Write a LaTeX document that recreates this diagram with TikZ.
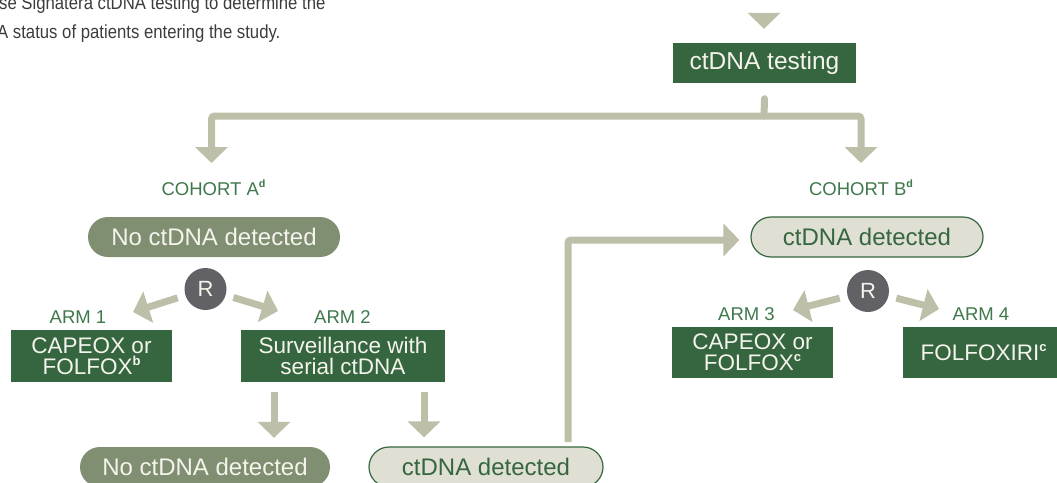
\documentclass[tikz,border=0pt]{standalone}
\usepackage{fontspec}
\setmainfont{Liberation Sans}
\newfontfamily\narrowfont[FakeStretch=0.88]{Liberation Sans}
\usetikzlibrary{arrows.meta}

\definecolor{cbox}{RGB}{53,102,63}
\definecolor{clink}{RGB}{189,191,168}
\definecolor{cpill}{RGB}{128,142,114}
\definecolor{clight}{RGB}{223,224,211}
\definecolor{clabel}{RGB}{62,120,75}
\definecolor{crand}{RGB}{98,97,101}
\definecolor{cnote}{RGB}{60,60,60}
\definecolor{cpaper}{RGB}{244,244,236}
\newcommand\supnote[1]{\raisebox{0.4em}{\scalebox{0.58}{\bfseries #1}}}
\tikzset{trialflow/.style={x=1pt,y=-1pt}}
\tikzset{armbox/.style={fill=cbox,text=cpaper,inner sep=0pt,align=center,font=\fontsize{22.5}{21}\selectfont},
         pill/.style={fill=cpill,text=cpaper,rounded corners=20pt,minimum height=40pt,inner sep=0pt,font=\fontsize{24}{24}\selectfont},
         pilllt/.style={pill,fill=clight,draw=cbox,line width=1.2pt,text=cbox},
         tag/.style={text=clabel,inner sep=0pt,anchor=base,font=\fontsize{18.5}{18.5}\selectfont},
         rand/.style={circle,fill=crand,text=cpaper,minimum size=42pt,inner sep=0pt,font=\fontsize{22}{22}\selectfont},
         note/.style={text=cnote,inner sep=0pt,anchor=base west,font=\narrowfont\fontsize{19}{19}\selectfont},
         flow/.style={clink,line width=7pt,rounded corners=3pt,-{Triangle[width=32pt,length=16pt]}}}

\begin{document}
\begin{tikzpicture}[trialflow]
    \useasboundingbox (0,0) rectangle (1057,482);
    \clip (0,0) rectangle (1057,482);
    \node[note] (note1) at (-1,9.5) {se Signatera ctDNA testing to determine the};
    \node[note] (note2) at (-3,38) {A status of patients entering the study.};
    % screening
    \node[armbox,minimum width=183pt,minimum height=40pt,font=\fontsize{24.5}{24.5}\selectfont] (test) at (764.5,63) {ctDNA testing};
    \node[tag] (cohA) at (213.5,195) {COHORT A\supnote{d}};
    \node[tag] (cohB) at (861,195) {COHORT B\supnote{d}};
    \node[pill,minimum width=252pt] (noA) at (214,237) {No ctDNA detected};
    \node[pilllt,minimum width=232pt] (detB) at (867,237) {ctDNA detected};
    \node[rand] (rA) at (205.5,289) {R};
    \node[rand] (rB) at (868,291) {R};
    % arms
    \node[tag] (lab1) at (78,323) {ARM 1};
    \node[tag] (lab2) at (342.5,323) {ARM 2};
    \node[tag] (lab3) at (746.5,320) {ARM 3};
    \node[tag] (lab4) at (981,320) {ARM 4};
    \node[armbox,minimum width=161pt,minimum height=52pt] (arm1) at (91.5,356) {CAPEOX or\\FOLFOX\supnote{b}};
    \node[armbox,minimum width=204pt,minimum height=52pt] (arm2) at (343,356) {Surveillance with\\serial ctDNA};
    \node[armbox,minimum width=161pt,minimum height=51pt] (arm3) at (752.5,352.5) {CAPEOX or\\FOLFOX\supnote{c}};
    \node[armbox,minimum width=161pt,minimum height=51pt] (arm4) at (983.5,352.5) {FOLFOXIRI\supnote{c}};
    % surveillance outcome
    \node[pill,minimum width=250pt] (noA2) at (205,467) {No ctDNA detected};
    \node[pilllt,minimum width=234pt] (detA2) at (486,467) {ctDNA detected};

    \coordinate (intop) at (764,13);
    \coordinate (fork) at (764,116);
    \coordinate (tipA) at (211.5,163);
    \coordinate (tipB) at (861,163);
    \draw[flow,shorten >=14pt] (intop) -- (intop |- test.north);
    \draw[clink,line width=7pt,line cap=round] ([yshift=-15.5pt]test.south) -- (fork);
    \draw[flow] (fork) -| (tipA);
    \draw[flow] (fork) -| (tipB);
    % randomisation
    \coordinate (t1) at (133,312); \coordinate (t2) at (278,311);
    \coordinate (t3) at (793,310); \coordinate (t4) at (939,309);
    \draw[flow,shorten <=8pt] (rA) -- (t1);
    \draw[flow,shorten <=8pt] (rA) -- (t2);
    \draw[flow,shorten <=8pt] (rB) -- (t3);
    \draw[flow,shorten <=8pt] (rB) -- (t4);
    % serial testing
    \coordinate (d1) at (274,392); \coordinate (d2) at (424,392);
    \draw[flow,shorten >=9pt] (d1) -- (d1 |- noA2.north);
    \draw[flow,shorten >=9pt] (d2) -- (d2 |- detA2.north);
    \coordinate (up) at (568,442);
    \draw[flow,shorten >=11pt] (up) |- ([yshift=-3pt]detB.west);   % back to cohort B
\end{tikzpicture}
\end{document}
